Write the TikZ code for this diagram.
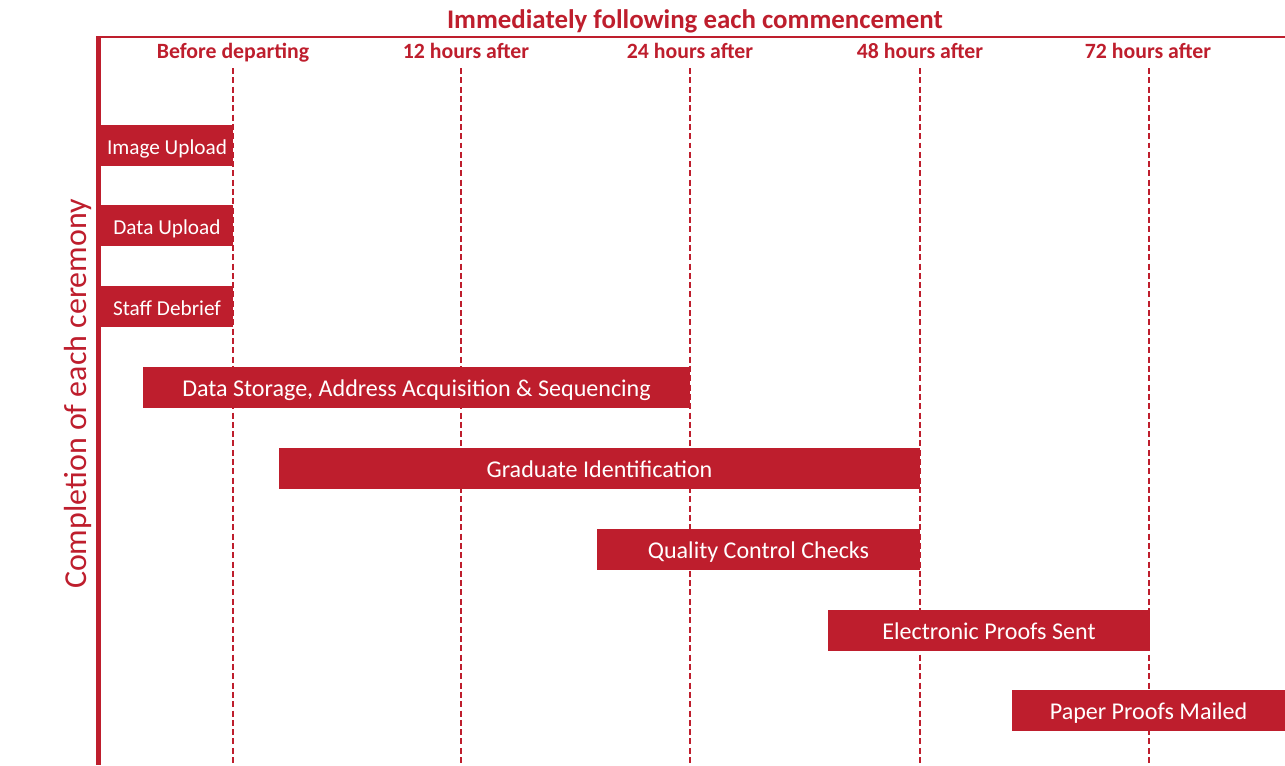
\documentclass[tikz,border=0pt]{standalone}
\usepackage{fontspec}
\setmainfont{Carlito}
\usepackage{tikz}
\definecolor{crimson}{RGB}{190,30,45}
\tikzstyle{every node}=[font=\fontsize{13.7}{16}\selectfont,inner sep=0pt]
\tikzstyle{bar}=[fill=crimson,text=white,minimum height=0.82cm,text height=0.63em+3.4pt,text depth=0pt]
\tikzstyle{short bar}=[bar,minimum width=2.64cm,font=\fontsize{12.1}{14}\selectfont]
\tikzstyle{when}=[text=crimson,font=\fontsize{12.4}{14}\selectfont\bfseries,anchor=base]
\tikzstyle{mark line}=[crimson,line width=1.1pt,dash pattern=on 3.4pt off 1.9pt]

\begin{document}
\begin{tikzpicture}[x=0.02cm,y=-0.02cm]
\useasboundingbox (0,0) rectangle (1285,765);

\node[text=crimson,font=\fontsize{15.3}{18}\selectfont\bfseries,anchor=base] (title) at (695,28.5) {Immediately following each commencement};
\draw[crimson,line width=1.1pt] (96,37) -- (1285,37);
\draw[crimson,line width=2.8pt] (98.5,37) -- (98.5,765);
\node[text=crimson,font=\fontsize{18.2}{21}\selectfont,rotate=90] (done) at (78,394) {Completion of each ceremony};

\node[when] (t0) at (233,58.5) {Before departing};
\node[when] (t12) at (466,58.5) {12 hours after};
\node[when] (t24) at (690,58.5) {24 hours after};
\node[when] (t48) at (920,58.5) {48 hours after};
\node[when] (t72) at (1148,58.5) {72 hours after};

\foreach \x in {233,461,690,920,1149}
  \draw[mark line] (\x,68) -- (\x,765);

\node[short bar] (image) at (167,145.5) {Image Upload};
\node[short bar] (data) at (167,225.5) {Data Upload};
\node[short bar] (staff) at (167,306.5) {Staff Debrief};
\node[bar,minimum width=10.94cm] (store) at (416.5,387.5) {Data Storage, Address Acquisition \& Sequencing};
\node[bar,minimum width=12.82cm] (grad) at (599.5,468.5) {Graduate Identification};
\node[bar,minimum width=6.46cm] (qc) at (758.5,549.5) {Quality Control Checks};
\node[bar,minimum width=6.44cm] (eproof) at (989,630.5) {Electronic Proofs Sent};
\node[bar,minimum width=5.46cm] (pproof) at (1148.5,710.5) {Paper Proofs Mailed};

\end{tikzpicture}
\end{document}
